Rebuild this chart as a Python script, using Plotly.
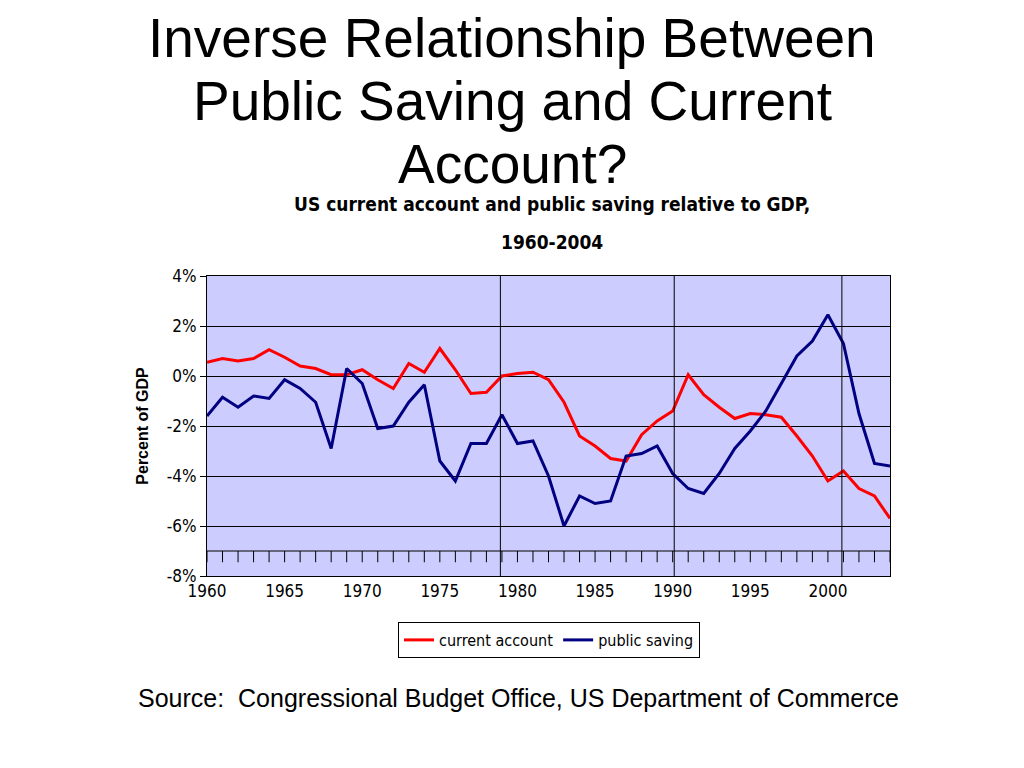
import plotly.graph_objects as go

years = list(range(1960, 2005))
current_account = [0.55, 0.7, 0.6, 0.7, 1.05, 0.75, 0.4, 0.3, 0.05, 0.05,
                   0.25, -0.15, -0.5, 0.5, 0.15, 1.1, 0.25, -0.7, -0.65, 0.0,
                   0.1, 0.15, -0.15, -1.05, -2.4, -2.8, -3.3, -3.4, -2.35, -1.8,
                   -1.4, 0.05, -0.75, -1.25, -1.7, -1.5, -1.55, -1.65, -2.4, -3.2,
                   -4.2, -3.8, -4.5, -4.8, -5.7]
public_saving = [-1.6, -0.85, -1.25, -0.8, -0.9, -0.15, -0.5, -1.05, -2.9, 0.3,
                 -0.3, -2.1, -2.0, -1.05, -0.35, -3.4, -4.2, -2.7, -2.7, -1.55,
                 -2.7, -2.6, -4.0, -6.0, -4.8, -5.1, -5.0, -3.2, -3.1, -2.8,
                 -3.9, -4.5, -4.7, -3.9, -2.9, -2.2, -1.4, -0.3, 0.8, 1.4,
                 2.45, 1.3, -1.5, -3.5, -3.6]
marker_years = [1978.9, 1990.1, 2000.9]
y_ticks = [4, 2, 0, -2, -4, -6, -8]
x_ticks = [1960, 1965, 1970, 1975, 1980, 1985, 1990, 1995, 2000]
title_lines = ["Inverse Relationship Between", "Public Saving and Current", "Account?"]

narrow = "DejaVu Sans Condensed, Liberation Sans Narrow, sans-serif"
arial = "Liberation Sans, Arial, sans-serif"

# the page is drawn 8px in from the top-left, so work in shifted pixels
OFF = 8
L, R, T, B = 207 - OFF, 134 + OFF, 276 - OFF, 192 + OFF
PW, PH = 1024 - L - R, 768 - T - B


def px(x):
    return (x - OFF - L) / PW


def py(y):
    return (768 - B - (y - OFF)) / PH


fig = go.Figure()
fig.add_trace(go.Scatter(x=years, y=current_account, mode="lines", name="current account",
                         line=dict(color="#ff0000", width=3)))
fig.add_trace(go.Scatter(x=years, y=public_saving, mode="lines", name="public saving",
                         line=dict(color="#000080", width=3)))

for yr in marker_years:
    fig.add_shape(type="line", x0=yr, x1=yr, y0=-8, y1=4, xref="x", yref="y",
                  line=dict(color="black", width=1))
fig.add_shape(type="line", x0=1960, x1=2004, y0=-7, y1=-7, xref="x", yref="y",
              line=dict(color="black", width=1))
for yr in years:
    fig.add_shape(type="line", x0=yr, x1=yr, y0=-7, y1=-7.45, xref="x", yref="y",
                  line=dict(color="black", width=1))

annotations = []
for i, line in enumerate(title_lines):
    annotations.append(dict(text=line, x=px(512), y=py(38 + 63 * i), xref="paper", yref="paper",
                            yanchor="middle", showarrow=False,
                            font=dict(family=arial, size=55)))
annotations += [
    dict(text="<b>US current account and public saving relative to GDP,</b>",
         x=px(552), y=py(204), xref="paper", yref="paper", yanchor="middle", showarrow=False,
         font=dict(family=narrow, size=19)),
    dict(text="<b>1960-2004</b>",
         x=px(552), y=py(242), xref="paper", yref="paper", yanchor="middle", showarrow=False,
         font=dict(family=narrow, size=19)),
    dict(text="Source:  Congressional Budget Office, US Department of Commerce",
         x=px(518), y=py(698), xref="paper", yref="paper", yanchor="middle", showarrow=False,
         font=dict(family=arial, size=25)),
]

fig.update_layout(
    width=1024, height=768,
    paper_bgcolor="white", plot_bgcolor="#ccccff",
    margin=dict(l=L, r=R, t=T, b=B),
    font=dict(family=narrow, size=17, color="black"),
    showlegend=True,
    legend=dict(orientation="h", x=px(549), xanchor="center", y=py(622), yanchor="top",
                bordercolor="black", borderwidth=1, font=dict(size=16, family=narrow)),
    xaxis=dict(range=[1960, 2004], tickvals=x_ticks, showgrid=False, ticks="",
               showline=True, linecolor="black", mirror=True, zeroline=False,
               automargin=False),
    yaxis=dict(range=[-8, 4], tickvals=y_ticks, ticktext=[f"{v}%" for v in y_ticks],
               showgrid=True, gridcolor="black", gridwidth=1, ticks="outside",
               ticklen=6, tickcolor="black", showline=True, linecolor="black",
               mirror=True, zeroline=False, automargin=False,
               title=dict(text="<b>Percent of GDP</b>", standoff=14,
                          font=dict(family=arial, size=16))),
    annotations=annotations,
)

fig.write_html("out.html")
